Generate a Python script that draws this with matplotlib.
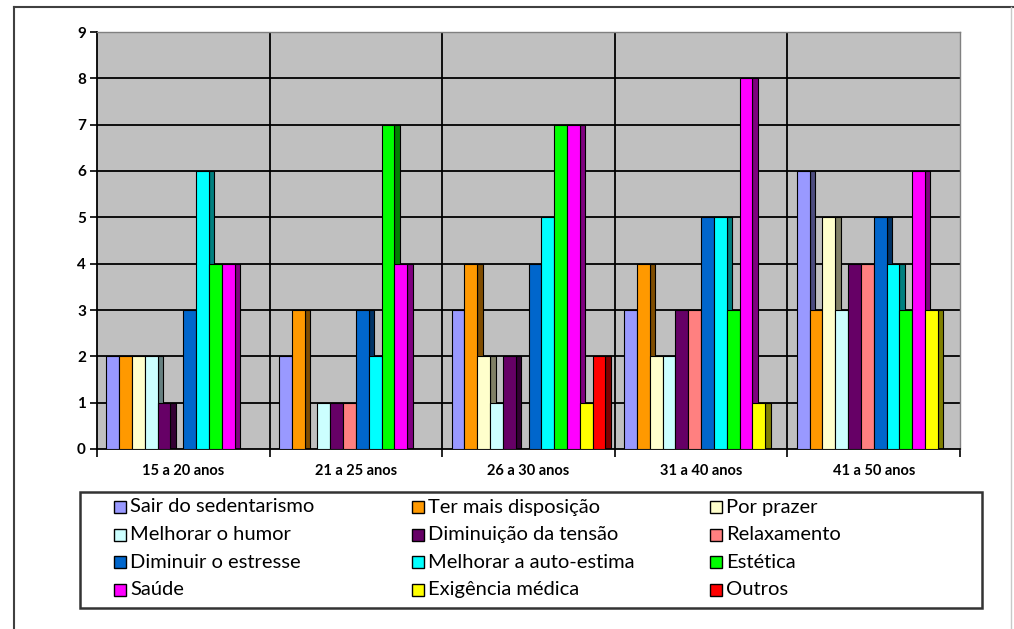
import matplotlib
matplotlib.use('Agg')
import matplotlib.pyplot as plt
from matplotlib.patches import Rectangle
from matplotlib.lines import Line2D
from matplotlib.colors import to_rgb
import numpy as np

plt.rcParams['font.family'] = ['Lato', 'DejaVu Sans']

############################################################

# Age groups and motivations
groups = ['15 a 20 anos', '21 a 25 anos', '26 a 30 anos', '31 a 40 anos', '41 a 50 anos']

series = ['Sair do sedentarismo', 'Ter mais disposição', 'Por prazer',
          'Melhorar o humor', 'Diminuição da tensão', 'Relaxamento',
          'Diminuir o estresse', 'Melhorar a auto-estima', 'Estética',
          'Saúde', 'Exigência médica', 'Outros']

colors = ['#9999FF', '#FF9900', '#FFFFCC', '#CCFFFF', '#660066', '#FF8080',
          '#0066CC', '#00FFFF', '#00FF00', '#FF00FF', '#FFFF00', '#FF0000']

# one value per age group for each motivation
sair      = [2, 2, 3, 3, 6]
ter       = [2, 3, 4, 4, 3]
prazer    = [2, 0, 2, 2, 5]
humor     = [2, 1, 1, 2, 3]
tensao    = [1, 1, 2, 3, 4]
relax     = [0, 1, 0, 3, 4]
estresse  = [3, 3, 4, 5, 5]
autoest   = [6, 2, 5, 5, 4]
estetica  = [4, 7, 7, 3, 3]
saude     = [4, 4, 7, 8, 6]
exigencia = [0, 0, 1, 1, 3]
outros    = [0, 0, 2, 0, 0]

values = [sair, ter, prazer, humor, tensao, relax,
          estresse, autoest, estetica, saude, exigencia, outros]

############################################################

W, H = 1014, 629
fig = plt.figure(figsize=(W / 100, H / 100), dpi=100)

def fx(px):
    return px / W

def fy(py):
    return 1 - py / H

# outer frame
fig.add_artist(Line2D([fx(14), fx(14)], [fy(7), 0], color='#404040', lw=1.5))
fig.add_artist(Line2D([fx(14), 1], [fy(7), fy(7)], color='#404040', lw=1.5))
fig.add_artist(Line2D([fx(1011), fx(1011)], [fy(7), 0], color='#C8C8C8', lw=1.0))

ax = fig.add_axes([fx(97), fy(449), fx(960) - fx(97), fy(32) - fy(449)])
ax.set_facecolor('#C0C0C0')

n = len(series)
group_frac = 0.89
w = group_frac / n
depth = 0.032
x = np.arange(len(groups))

for j in range(n):
    xs = x - group_frac / 2 + (j + 0.5) * w
    dark = tuple(c * 0.5 for c in to_rgb(colors[j]))
    # side face (3D look), hidden behind next bar
    ax.bar(xs + w / 2 + depth / 2, values[j], width=depth, color=dark,
           edgecolor='black', linewidth=0.8, zorder=2)
    ax.bar(xs, values[j], width=w, color=colors[j],
           edgecolor='black', linewidth=0.8, zorder=3, label=series[j])

# back wall grid
ax.set_ylim(0, 9)
ax.set_xlim(-0.5, len(groups) - 0.5)
for yv in range(1, 9):
    ax.axhline(yv, color='black', lw=1.3, zorder=0)
for xv in np.arange(0.5, len(groups) - 0.5):
    ax.axvline(xv, color='black', lw=1.3, zorder=0)

ax.set_yticks(range(0, 10))
ax.set_yticklabels([str(v) for v in range(0, 10)], fontsize=11, fontweight='bold')
ax.set_xticks(np.arange(-0.5, len(groups)))
ax.set_xticklabels([])
ax.set_xticks(x, minor=True)
ax.set_xticklabels(groups, minor=True, fontsize=10.5, fontweight='bold')
ax.tick_params(axis='x', which='major', direction='out', length=6, width=1.2)
ax.tick_params(axis='x', which='minor', length=0, pad=11)
ax.tick_params(axis='y', direction='out', length=5, width=1.2, pad=3)

for side in ['left', 'bottom']:
    ax.spines[side].set_color('black')
    ax.spines[side].set_linewidth(1.3)
for side in ['top', 'right']:
    ax.spines[side].set_color('#808080')
    ax.spines[side].set_linewidth(1.0)

############################################################

# legend box, 3 columns filled row by row
fig.add_artist(Rectangle((fx(80), fy(608)), fx(982) - fx(80), fy(492) - fy(608),
                         transform=fig.transFigure, facecolor='white',
                         edgecolor='#333333', lw=1.8))
col_x = [114, 412, 710]
row_y = [507, 534.5, 562, 589.5]
box = 12
for j in range(n):
    r, c = divmod(j, 3)
    cx, cy = col_x[c], row_y[r]
    fig.add_artist(Rectangle((fx(cx), fy(cy + box / 2)), box / W, box / H,
                             transform=fig.transFigure, facecolor=colors[j],
                             edgecolor='black', lw=1.0))
    fig.text(fx(cx + box + 4), fy(cy), series[j], fontsize=14.5,
             va='center', ha='left')

plt.savefig('out.png', dpi=100)
